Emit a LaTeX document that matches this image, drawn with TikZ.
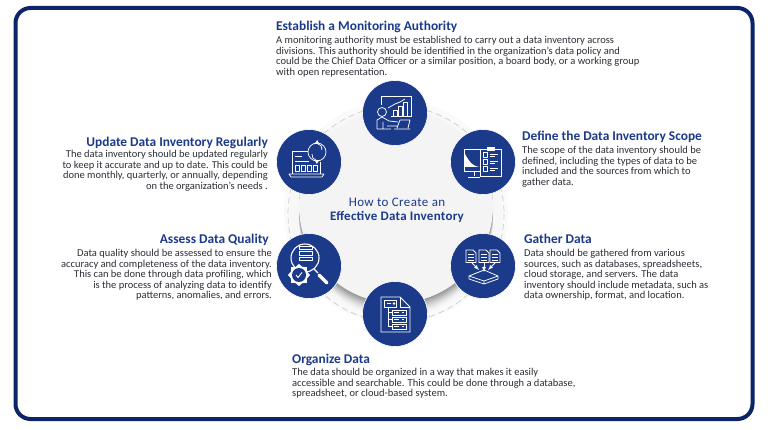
\documentclass[tikz,border=0pt]{standalone}
\usepackage{fontspec}
\setmainfont{Carlito}
\newfontfamily\ctrfont[LetterSpace=3]{Carlito}
\usetikzlibrary{shapes.geometric}
\definecolor{navy}{HTML}{1B3A8A}
\definecolor{frame}{HTML}{0C2468}
\definecolor{body}{HTML}{2B2E35}
\definecolor{discfill}{HTML}{F4F4F5}
\tikzset{x=1pt,y=-1pt,
 hub/.style={circle,fill=navy,draw=white,line width=0.6pt,minimum size=65pt,inner sep=0pt},
 ttl/.style={font=\fontsize{13.4}{15}\selectfont\bfseries,text=navy,inner sep=0pt},
 txtL/.style={font=\fontsize{10.5}{10.6}\selectfont,text=body,align=left,inner sep=0pt},
 txtR/.style={font=\fontsize{10.5}{10.6}\selectfont,text=body,align=right,inner sep=0pt},
 ic/.style={draw=white,line width=0.75pt,fill=none,line join=round},
 icf/.style={fill=white,draw=none}}
\begin{document}
\begin{tikzpicture}
\useasboundingbox (0,0) rectangle (768,430);
\fill[white] (0,0) rectangle (768,430);
\node[draw=frame,line width=4pt,rounded corners=15pt,fill=white,minimum width=737pt,minimum height=411pt,inner sep=0pt] (card) at (384,213.5) {};
% central disc with soft shadow
\fill[black!2] (396,212) circle (112);
\fill[black!3] (396,212) circle (106);
\foreach \d/\c in {13/6,11/10,9/15,7/21,5/28,3/35,1/42}{\fill[black!\c] (396,206+\d) circle (97);}
\draw[black!20,line width=0.7pt,dash pattern=on 6pt off 4pt] (396,214) circle (108);
\node[circle,fill=discfill,minimum size=194pt,inner sep=0pt] (disc) at (396,206) {};
\node[hub] (h1) at (395,113) {};
\node[hub] (h2) at (483,162) {};
\node[hub] (h3) at (483,266) {};
\node[hub] (h4) at (395,314) {};
\node[hub] (h5) at (309,266) {};
\node[hub] (h6) at (309,162) {};
\node[font=\fontsize{13}{13}\selectfont,text=navy,align=center,inner sep=0pt] (ctr) at (397,210.5) {{\ctrfont How to Create an}\\[1pt]{\bfseries\addfontfeature{LetterSpace=2} Effective Data Inventory}};
% icon 1: presenter and chart
\begin{scope}[shift={(395,113)}]
\draw[ic] (-14,-8) -- (-14,-17) -- (16,-17) -- (16,3) -- (5,3);
\draw[ic] (-2,3) -- (-2,-3) -- (2,-3) -- (2,3) (3,3) -- (3,-7) -- (7,-7) -- (7,3) (8,3) -- (8,-11) -- (12,-11) -- (12,3) -- (-4,3);
\draw[ic] (-7,-5) -- (0,-9) -- (5,-11) -- (10,-14);
\draw[ic] (-13,-1) circle (4.5);
\draw[ic] (-18,16) -- (-18,7) -- (-13,4) -- (-6,8) -- (3,9) (-12,16) -- (-12,9) (-18,16) -- (-4,16);
\draw[ic] (-1,16) -- (15,16) (2,15) -- (5,7) -- (15,7) -- (13,15) (-8,13) -- (2,13);
\end{scope}
% icon 2: monitor and clipboard
\begin{scope}[shift={(483,162)}]
\draw[ic] (-19,-13) rectangle (-3,9);
\fill[white] (-18,-8) .. controls (-13,1) and (-10,4) .. (-4,5) -- (-18,5) -- cycle;
\draw[ic] (-9,9) -- (-9,14) (-15,15) -- (-3,15);
\draw[ic,fill=navy] (-3,-13) rectangle (18,14);
\draw[ic,fill=white] (4,-15) rectangle (11,-12);
\foreach \y in {-7,0,7}{\draw[ic] (0,\y-2.3) rectangle (4,\y+2.3); \draw[ic,line width=.6pt] (7,\y-1) -- (15,\y-1) (7,\y+1) -- (12,\y+1);}
\end{scope}
% icon 3: docs to tray
\begin{scope}[shift={(483,266)}]
\foreach \x in {-12,1,12}{\begin{scope}[shift={(\x,-10)}]
\draw[ic] (-5,-6) -- (2,-6) -- (5,-3) -- (5,6.5) -- (-5,6.5) -- cycle;
\foreach \y in {-2,1,4}{\draw[white,line width=.6pt] (-3,\y) -- (3,\y);}
\end{scope}}
\draw[ic,-latex] (-11,-3) -- (-4,4);
\draw[ic,-latex] (1,-3) -- (1,6);
\draw[ic,-latex] (12,-3) -- (5,4);
\draw[ic] (-14,10) -- (1,4) -- (15,10) -- (1,15) -- cycle;
\draw[ic] (-14,10) -- (-14,13) -- (1,18) -- (15,13) -- (15,10) (1,15) -- (1,18);
\end{scope}
% icon 4: document with server rows
\begin{scope}[shift={(395,314)}]
\draw[ic] (-14,-17) -- (5,-17) -- (15,-7) -- (15,18) -- (-14,18) -- cycle;
\draw[ic] (5,-17) -- (5,-7) -- (15,-7);
\draw[ic] (-11,-14) rectangle (1,-7);
\draw[white,line width=.8pt] (-8,-10.5) -- (-4,-10.5) (-1,-10.5) circle (.7);
\draw[ic] (-7,-7) -- (-7,12.5) -- (-3,12.5) (-7,5.5) -- (-3,5.5) (-7,-1.5) -- (-3,-1.5);
\foreach \y in {-1.5,5.5,12.5}{\draw[ic,fill=navy] (-3,\y-2.5) rectangle (11,\y+2.5); \draw[white,line width=.8pt] (-1,\y) -- (4,\y) (7,\y) -- (9,\y);}
\end{scope}
% icon 5: magnifier with gear
\begin{scope}[shift={(309,266)}]
\draw[ic,line width=1.1pt] (-4,-8) circle (14);
\draw[ic,fill=navy] (-10,-20) rectangle (3,-16.5);
\draw[ic,fill=navy] (-10,-14.5) rectangle (3,-11);
\draw[ic,fill=navy] (-10,-9) rectangle (3,-5.5);
\draw[ic,line width=1.1pt] (5,3) -- (9,7);
\draw[white,line width=3.2pt,line cap=round] (10,9) -- (18,17);
\node[star,star points=8,star point ratio=1.25,fill=white,minimum size=22pt,inner sep=0pt] (gear) at (-10,9) {};
\node[circle,fill=navy,minimum size=14pt,inner sep=0pt] (gearin) at (-10,9) {};
\draw[white,line width=.9pt] (-13,9) -- (-11,11.5) -- (-7,6.5);
\end{scope}
% icon 6: laptop with refresh
\begin{scope}[shift={(309,162)}]
\draw[ic] (0,-11) -- (-17,-11) -- (-17,12) (11,0) -- (11,12);
\draw[ic] (-20,12) -- (15,12) -- (13,15) -- (-18,15) -- cycle;
\draw[white,line width=.8pt] (-14,-6) -- (-7,-6);
\draw[ic] (-14,-1) -- (0,-1);
\foreach \x in {-14,-8,-2,4}{\draw[ic] (\x,3) rectangle +(4.5,6);}
\draw[ic,fill=navy] (8,-10) circle (9);
\draw[ic,->,>=latex] (3,-8) arc (190:60:5.5);
\draw[ic,->,>=latex] (13,-12) arc (10:-120:5.5);
\end{scope}
% texts
\node[ttl,anchor=north west] (t1) at (276,21) {Establish a Monitoring Authority};
\node[txtL,anchor=north west] (b1) at (276,36) {A monitoring authority must be established to carry out a data inventory across\\divisions. This authority should be identified in the organization's data policy and\\could be the Chief Data Officer or a similar position, a board body, or a working group\\with open representation.};
\node[ttl,anchor=north west] (t2) at (522,131) {Define the Data Inventory Scope};
\node[txtL,anchor=north west] (b2) at (522,146) {The scope of the data inventory should be\\defined, including the types of data to be\\included and the sources from which to\\gather data.};
\node[ttl,anchor=north west] (t3) at (524,234) {Gather Data};
\node[txtL,anchor=north west] (b3) at (524,249) {Data should be gathered from various\\sources, such as databases, spreadsheets,\\cloud storage, and servers. The data\\inventory should include metadata, such as\\data ownership, format, and location.};
\node[ttl,anchor=north west] (t4) at (292,354) {Organize Data};
\node[txtL,anchor=north west] (b4) at (292,368) {The data should be organized in a way that makes it easily\\accessible and searchable. This could be done through a database,\\spreadsheet, or cloud-based system.};
\node[ttl,anchor=north east] (t5) at (269,234) {Assess Data Quality};
\node[txtR,anchor=north east] (b5) at (272,249) {Data quality should be assessed to ensure the\\accuracy and completeness of the data inventory.\\This can be done through data profiling, which\\is the process of analyzing data to identify\\patterns, anomalies, and errors.};
\node[ttl,anchor=north east] (t6) at (268,137) {Update Data Inventory Regularly};
\node[txtR,anchor=north east] (b6) at (268,150) {The data inventory should be updated regularly\\to keep it accurate and up to date. This could be\\done monthly, quarterly, or annually, depending\\on the organization's needs .};
\end{tikzpicture}
\end{document}
